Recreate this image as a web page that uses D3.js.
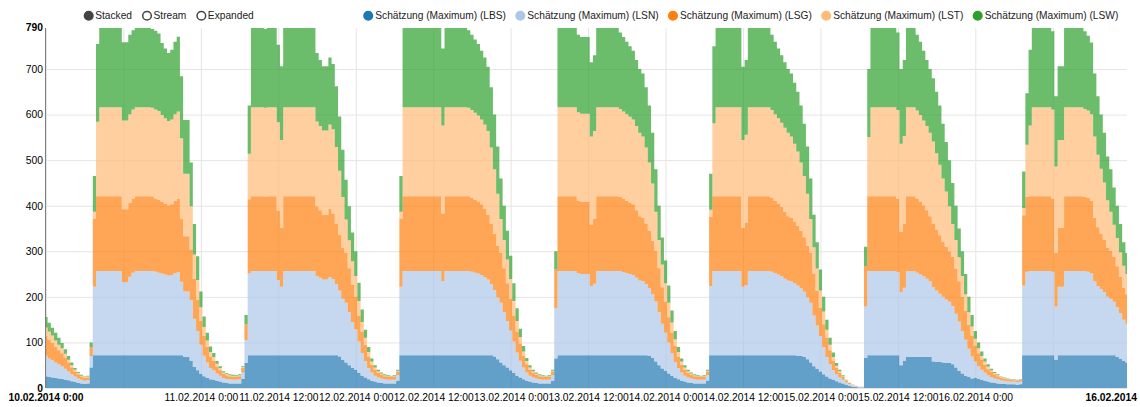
<!DOCTYPE html>
<html>
<head>
<meta charset="utf-8">
<script src="https://cdn.jsdelivr.net/npm/d3@7"></script>
<style>
  body { margin: 0; background: #fff; }
  svg { display: block; }
</style>
</head>
<body>
<svg id="chart" width="1140" height="407"></svg>
<script>
// stacked area: Schätzung (Maximum), half-hour slots 10.02.2014 0:00 .. 16.02.2014 23:30

var keys = ["lbs", "lsn", "lsg", "lst", "lsw"];
var seriesNames = ["Schätzung (Maximum) (LBS)", "Schätzung (Maximum) (LSN)", "Schätzung (Maximum) (LSG)", "Schätzung (Maximum) (LST)", "Schätzung (Maximum) (LSW)"];
var seriesColors = ["#1f77b4", "#aec7e8", "#ff7f0e", "#ffbb78", "#2ca02c"];
var controlNames = ["Stacked", "Stream", "Expanded"];
var yTickValues = [0, 100, 200, 300, 400, 500, 600, 700];
var xTickLabels = ["11.02.2014 0:00", "11.02.2014 12:00", "12.02.2014 0:00", "12.02.2014 12:00", "13.02.2014 0:00",
    "13.02.2014 12:00", "14.02.2014 0:00", "14.02.2014 12:00", "15.02.2014 0:00", "15.02.2014 12:00", "16.02.2014 0:00"];
var firstSlot = "10.02.2014 0:00";
var slotMinutes = 30;

// one line per day, 48 half-hour values
var lbs = [
26,24,23,22,21,20,18,17,15,13,11,10,9,10, 45, 72,72,72,72,72,72,72, 72,72,72,72,72,72,72, 72,72,72,72,72,72,72, 72,72,72,72,72,72,72, 68,68,60,46,39,
31,26,22,19,18,16,14,12,11,10,10,10,10,20, 55, 72,72,72,72,72,72,72, 72,72,72,72,72,72,72, 72,72,72,72,72,72,72, 72,72,72,72,72,72,72, 69,62,56,50,44,
40,33,27,23,19,16,14,12,11,10,10,10,10,16, 72, 72,72,72,72,72,72,72, 72,72,72,72,72,72,72, 72,72,72,72,72,72,72, 72,72,72,72,72,72,72, 69,63,56,50,45,
39,33,27,23,19,16,14,12,11,10,10,10,10,16, 65, 72,72,72,72,72,72,72, 72,72,72,72,72,72,72, 72,72,72,72,72,72,72, 72,72,72,72,72,72,72, 70,66,58,50,43,
38,32,27,22,19,16,14,12,11,10,10,10,10,16, 72,72,72,72,72,72, 72,72,72,72,72,72,72, 72,72,72,72,72,72,72, 72,72,72,72,72,72,72, 71,70,68,63,56,48,42,
36,30,25,21,18,15,12,10,7,5,3,2,1,1, 66, 72, 72,72,72,72,72,72,72,72, 72, 50, 60, 68,68,68,68,68,68,68,68, 58,57,57,56,55,55,52,45,38,32,27,24,21,
22,20,18,16,14,12,11,10,9,9,8,8,8,7,8, 72,72,72,72,72,72,72,72,72,72, 62, 72,72,72,72,72,72, 72,72,72,72,72,72, 72,72,72,72,72,72, 68,64,60,56
];
var lsn = [
45,41,38,34,31,28,24,19,15,12,10,8,7,7, 25, 150, 185, 185,185,185,185,185,185,185, 160,160,172,181, 185,185,185,185,185, 185,183,181, 179,177,175,176,180,182, 161,144,144,133,106,86,
64,45,34,25,21,16,13,10,9,9,8,8,9,14, 50,180, 185,185,185,185,185,185,185,185, 165,150, 185,185,185,185,185,185,185,185,185,185, 174,170,166,166,171,167,156,145,134,131,116,101,
89,69,50,36,25,18,13,11,10,9,8,8,8,12, 150, 185,185,185,185,185,185,185,185,185,185,185,185, 163, 185,185,185,185,185,185,185, 185,183,181,179,176,171,166,156,146,136,131,116,102,
87,69,51,37,26,18,13,11,10,9,8,8,8,12, 110, 185,185,185,185,185,185, 180, 178,178,178, 152,157, 185,185,185,185,185,185,185, 184,182,180,178,176,170,164,162,156,149,140,132,116,98,
84,68,50,35,25,18,13,11,10,9,8,8,8,12, 152,185, 185,185,185,185,185,185,185,185, 150,154, 185,185,185,185,185,185,185, 183,180,177,173,168,164,162,158,154,149,143,136,131,111,95,
78,60,43,31,21,15,11,8,5,4,3,2,1,1, 113,185, 185,185,185,185,185,185,185,185, 182, 160,160, 188,188,188, 185,181,177,172,166,163,157,150,144,139,134,128,118,108,93,79,62,48,
36,28,22,18,14,12,10,9,8,7,7,6,6,6,6, 153,183,185, 185,185,185,185,185,185, 183, 117, 150,150, 185,185,185,185,185,185, 184,183,180, 162,152,145,138,128,124,117,109,100,90,84
];
var lsg = [
43,41,38,34,31,28,24,19,15,11,9,7,6,6, 20, 150, 164, 164,164,164,164,164,164,164, 160,160,162,163, 164,164,164,164,164, 163,161,160, 158,156,154,155,159,161, 138,121,121,111,87,69,
52,43,34,25,21,15,12,9,8,7,7,6,7,10, 35,162, 164,164,164,164, 163, 164,164,164, 152,129, 164,164,164,164,164,164,164,164,164,164, 153,148,142,142,150,144,133,122,112,110,97,82,
72,56,46,36,25,17,13,10,8,7,6,6,6,8, 150, 164,164,164,164,164,164,164,164,164,164,164,164, 148, 164,164,164,164,164,164,164, 164,162,160,158,155,150,142,133,123,113,110,97,83,
70,56,46,37,25,18,13,10,8,7,6,6,6,8, 85, 164,164,164,164,164,164, 159, 158,158,158, 135,142, 164,164,164,164,164,164,164, 163,161,159,157,155,148,141,139,133,126,117,111,97,80,
67,55,45,35,25,17,13,10,8,7,6,6,6,8, 152,164, 164,164,164,164,164,164,164,164, 129,137, 164,164,164,164,164,164,164, 162,159,156,152,146,141,139,135,131,126,120,113,110,92,77,
62,50,42,31,21,14,10,6,4,2,1,1,1,1, 88,164, 164,164,164,164,164,164,164,164, 161, 133,140, 165,165,165, 163,160,156,150,143,140,134,128,121,116,111,108,99,88,75,63,52,45,
35,28,22,17,13,11,9,7,6,5,4,4,3,3,4, 154,164,164, 164,164,164,164,164,164, 161, 118, 129,129, 164,164,164,164,164,164, 163,162,159, 139,129,122,115,108,105,99,90,80,70,66
];
var lst = [
19,18,16,14,12,11,9,7,5,4,3,2,2,2, 0, 15, 163, 195,195,195,195,195,195,195, 195,195,195,195, 195,195,195,195,195, 195,195,195, 190,187,185,186,190,192, 177,137,137,95,54,43,
30,20,14,10,8,6,5,3,3,2,2,2,2,2, 0,100, 195,195,195,195,195,195,195,195, 194,193, 195,195,195,195,195,195,195,195,195,195, 186,185,185,185,185,185,168,141,111,73,61,51,
45,33,22,15,10,7,5,4,3,2,2,2,2,2, 15, 195,195,195,195,195,195,195,195,195,195,195,195, 193, 195,195,195,195,195,195,195, 194,193,191,189,186,185,184,167,142,114,74,62,52,
43,33,23,15,10,7,5,4,3,2,2,2,2,2, 0, 195,195,195,195,195,195, 194, 194,194,194, 193,193, 195,195,195,195,195,195,195, 193,192,190,188,186,185,183,179,167,150,126,86,62,50,
41,32,22,15,10,7,5,4,3,2,2,2,2,2, 15,160, 195,195,195,195,195,195,195,195, 193,193, 195,195,195,195,195,195,195, 193,190,187,185,185,183,179,171,163,150,134,114,74,58,48,
38,28,18,12,8,5,4,2,1,1,1,0,0,0, 0,130, 195,195,195,195,195,195,195,195, 195, 193,193, 195,195,195, 193,190,186,185,183,180,167,155,139,121,99,72,63,53,46,37,28,21,
15,11,8,7,6,4,3,2,2,1,1,1,1,1,1, 16,115,155, 195,195,195,195,195,195, 195, 189, 193,193, 195,195,195,195,195,195, 193,192,190, 179,159,142,126,104,86,70,62,54,48,44
];
var lsw = [
23,19,17,17,15,12,10,8,6,4,2,2,1,2, 10, 78, 171, 174,174,174,174,174,174,174, 172,172,174,174, 174,174,174,174,174, 173,173,170, 158,153,149,153,159,164, 136,118,118,96,67,52,
35,23,17,12,9,6,4,3,2,2,2,2,2,2, 20,106, 174,174,174,174, 173, 174,174,174, 170,162, 174,174,174,174,174,174,174,174,174,174, 150,145,141,141,147,143,133,119,104,87,75,63,
54,40,27,18,11,7,5,3,2,2,2,1,2,2, 78, 174,174,174,174,174,174,174,174,174,174,174,174, 169, 174,174,174,174,174,174,174, 170,165,161,157,151,147,141,132,120,104,89,75,63,
51,39,28,18,12,7,5,3,2,2,2,1,2,2, 40, 174,174,174,174,174,174, 170, 168,168,168, 163,166, 174,174,174,174,174,174,174, 168,163,159,155,151,145,140,138,132,125,111,93,75,59,
50,38,26,18,11,7,5,3,2,2,2,1,2,2, 79,169, 174,174,174,174,174,174,174,174, 161,164, 174,174,174,174,174,174,174, 165,159,153,148,144,140,138,134,131,125,115,104,89,71,58,
46,32,22,15,10,6,3,2,1,0,0,0,0,0, 43,149, 174,174,174,174,174,174,174,174, 170, 164,167, 174,174,174, 166,161,153,145,140,139,135,130,120,109,101,90,75,63,54,44,34,25,
17,13,10,7,5,3,2,2,1,1,1,1,1,1,1, 80,113,166, 174,174,174,174,174,174, 172, 154, 162,162, 174,174,174,174,174,174, 171,164,157, 138,128,119,109,96,93,82,71,62,52,46
];

var fontFamily = '"Liberation Sans", Arial, Helvetica, sans-serif';
var fontSize = 10.3;
var W = 1140, H = 407;
var margin = {top: 28, right: 13, bottom: 19, left: 46};
var w = W - margin.left - margin.right;
var h = H - margin.top - margin.bottom;

var parseTime = d3.timeParse("%d.%m.%Y %H:%M");
var fmtTime = d3.timeFormat("%d.%m.%Y %-H:%M");
var fmtDay = d3.timeFormat("%d.%m.%Y");
var t0 = parseTime(firstSlot);

if ([lsn, lsg, lst, lsw].some(function(a) { return a.length !== lbs.length; })) {
    console.error("series length mismatch", lbs.length, lsn.length, lsg.length, lst.length, lsw.length);
}

var rows = lbs.map(function(v, i) {
    return {date: d3.timeMinute.offset(t0, i * slotMinutes), lbs: v, lsn: lsn[i], lsg: lsg[i], lst: lst[i], lsw: lsw[i]};
});
var layers = d3.stack().keys(keys)(rows);

var x = d3.scaleTime().domain(d3.extent(rows, function(d) { return d.date; })).range([0, w]);
var yMax = d3.max(layers[layers.length - 1], function(d) { return d[1]; });
var y = d3.scaleLinear().domain([0, yMax]).range([h, 0]);

var svg = d3.select("#chart").attr("font-family", fontFamily);
var g = svg.append("g").attr("transform", "translate(" + margin.left + "," + margin.top + ")");

//vertical grid every 12h
var xGrid = g.append("g").attr("transform", "translate(0," + h + ")")
    .call(d3.axisBottom(x).ticks(d3.timeHour.every(12)).tickSize(-h).tickFormat(""));
xGrid.select(".domain").remove();
xGrid.selectAll("line").attr("stroke", "#e5e5e5");

//y axis with horizontal grid
var yAxis = g.append("g")
    .call(d3.axisLeft(y).tickValues(yTickValues).tickSize(-w).tickPadding(3));
yAxis.attr("font-family", fontFamily).attr("font-size", fontSize);
yAxis.select(".domain").remove();
yAxis.selectAll("line").attr("stroke", "#e5e5e5");
yAxis.selectAll("text").attr("fill", "#000")
    .attr("font-weight", function(d) { return d === 0 ? "bold" : null; });
g.append("text")
    .attr("x", -3).attr("y", y(yMax)).attr("dy", "0.32em")
    .attr("text-anchor", "end").attr("font-size", fontSize).attr("font-weight", "bold")
    .text(d3.format("d")(yMax));

//x labels
var xAxis = g.append("g").attr("transform", "translate(0," + h + ")")
    .call(d3.axisBottom(x).tickValues(xTickLabels.map(parseTime)).tickSize(0).tickPadding(6).tickFormat(fmtTime));
xAxis.attr("font-family", fontFamily).attr("font-size", fontSize);
xAxis.select(".domain").remove();
xAxis.selectAll("text").attr("fill", "#000");

//bold min / max labels
var xDom = x.domain();
g.append("text")
    .attr("x", x(xDom[0])).attr("y", h + 6).attr("dy", "0.71em")
    .attr("text-anchor", "middle").attr("font-size", fontSize).attr("font-weight", "bold")
    .attr("fill", "#000")
    .text(fmtTime(xDom[0]));
g.append("text")
    .attr("x", W - margin.left - 3).attr("y", h + 6).attr("dy", "0.71em")
    .attr("text-anchor", "end").attr("font-size", fontSize).attr("font-weight", "bold")
    .attr("fill", "#000")
    .text(fmtDay(xDom[1]));

//stacked areas
var area = d3.area()
    .curve(d3.curveStep)
    .x(function(d) { return x(d.data.date); })
    .y0(function(d) { return y(d[0]); })
    .y1(function(d) { return y(d[1]); });

g.append("g").selectAll("path")
    .data(layers)
    .enter().append("path")
    .attr("d", area)
    .attr("fill", function(d, i) { return seriesColors[i]; })
    .attr("fill-opacity", 0.7);

//y axis line on top
g.append("path")
    .attr("d", "M-0.5," + y.range()[1] + "V" + y.range()[0])
    .attr("stroke", "#000").attr("stroke-opacity", 0.5).attr("fill", "none");

//controls legend
var legend = svg.append("g").attr("font-size", 10.2);
var cx = 88.7;
controlNames.forEach(function(name, i) {
    var item = legend.append("g").attr("transform", "translate(" + cx + ",15.7)");
    item.append("circle").attr("r", 4.3)
        .attr("fill", i === 0 ? "#444" : "#fff")
        .attr("stroke", "#444").attr("stroke-width", 1.5);
    var t = item.append("text").attr("x", 6.5).attr("dy", "0.32em").attr("fill", "#222").text(name);
    cx += 6.5 + t.node().getComputedTextLength() + 15;
});

//series legend, right aligned
var items = seriesNames.map(function(name, i) {
    var item = legend.append("g");
    item.append("circle").attr("r", 4.3)
        .attr("fill", seriesColors[i]).attr("stroke", seriesColors[i]).attr("stroke-width", 1.5);
    var t = item.append("text").attr("x", 7).attr("dy", "0.32em").attr("fill", "#222").text(name);
    return {item: item, len: t.node().getComputedTextLength()};
});
var end = 1118.3;
for (var i = items.length - 1; i >= 0; i--) {
    var circleX = end - items[i].len - 7;
    items[i].item.attr("transform", "translate(" + circleX + ",15.7)");
    end = circleX - 14.3;
}
</script>
</body>
</html>
